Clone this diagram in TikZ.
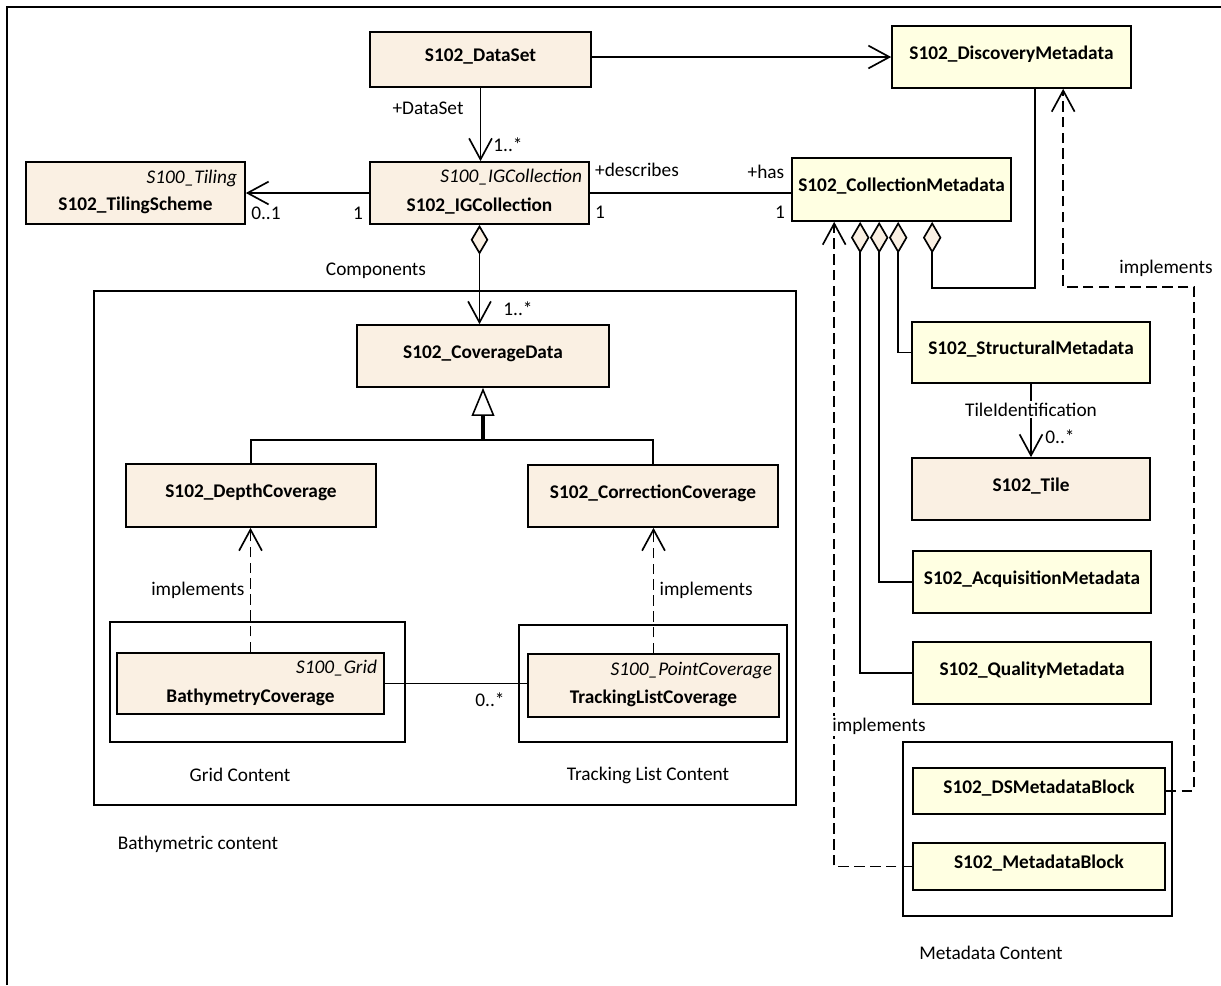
\documentclass[tikz,border=0pt]{standalone}
\usepackage{fontspec}
\setmainfont{Carlito}
\usetikzlibrary{positioning, arrows.meta, calc}

\definecolor{classfill}{RGB}{250,240,227}
\definecolor{metafill}{RGB}{255,255,226}

\tikzset{
  cls/.style={draw, fill=classfill, inner sep=0pt, text height=8pt, text depth=5.5pt,
    font=\fontsize{11}{13}\selectfont\bfseries},
  meta/.style={cls, fill=metafill},
  clsname/.style={inner sep=0pt, font=\fontsize{11}{13}\selectfont\bfseries},
  stereo/.style={inner sep=0pt, font=\fontsize{11}{13}\selectfont\itshape},
  lbl/.style={inner sep=1pt},
  assoc/.style={-{Straight Barb[length=12pt, width=13pt]}},
  real/.style={assoc, dash pattern=on 6pt off 3pt},
  agg/.style={{Diamond[fill=classfill, length=18pt, width=10.5pt]}-},
  aggnav/.style={{Diamond[fill=classfill, length=17pt, width=10pt]}-{Straight Barb[length=12pt, width=13pt]}},
  gen/.style={-{Triangle[open, line width=0.9pt, length=16pt, width=13pt]}}
}

\begin{document}
\begin{tikzpicture}[x=0.02cm, y=-0.02cm, line width=0.95pt,
    every node/.style={font=\fontsize{11}{13}\selectfont}]
    \useasboundingbox (0,0) rectangle (1221,985);

    % Frame
    \draw (7,985) -- (7,7) -- (1221,7);

    % Packages
    \draw (94,291) rectangle (796,805);
    \node[lbl] (pk-bathy) at (198,844) {Bathymetric content};
    \draw (110,622) rectangle (405,742);
    \node[lbl] (pk-grid) at (240,775) {Grid Content};
    \draw (519,625) rectangle (787,742);
    \node[lbl] (pk-track) at (648,775) {Tracking List Content};
    \draw (903,742) rectangle (1172,916);
    \node[lbl] (pk-meta) at (991,953) {Metadata Content};

    % Classes
    \node[cls, minimum width=4.42cm, minimum height=1.1cm] (dataset) at (480.5,59.5) {S102\_DataSet};
    \node[meta, minimum width=4.78cm, minimum height=1.24cm] (discovery) at (1011.5,57) {S102\_DiscoveryMetadata};
    \node[cls, minimum width=4.38cm, minimum height=1.24cm] (tiling) at (135.5,193) {};
    \node[stereo, anchor=east] (tiling-st) at ($(tiling.north east)+(-8,17)$) {S100\_Tiling};
    \node[clsname] (tiling-nm) at ($(tiling.south)+(0,-19)$) {S102\_TilingScheme};
    \node[cls, minimum width=4.38cm, minimum height=1.24cm] (igcoll) at (479.5,193) {};
    \node[stereo, anchor=east] (igcoll-st) at ($(igcoll.north east)+(-7,16)$) {S100\_IGCollection};
    \node[clsname] (igcoll-nm) at ($(igcoll.south)+(0,-19)$) {S102\_IGCollection};
    \node[meta, minimum width=4.38cm, minimum height=1.26cm] (collmeta) at (901.5,189.5) {S102\_CollectionMetadata};

    \node[cls, minimum width=5.04cm, minimum height=1.24cm] (coverage) at (483,356) {S102\_CoverageData};
    \node[cls, minimum width=5cm, minimum height=1.26cm] (depth) at (251,495.5) {S102\_DepthCoverage};
    \node[cls, minimum width=5cm, minimum height=1.24cm] (correction) at (653,496) {S102\_CorrectionCoverage};
    \node[cls, minimum width=5.34cm, minimum height=1.22cm] (bathy) at (250.5,683.5) {};
    \node[stereo, anchor=east] (bathy-st) at ($(bathy.north east)+(-7,16)$) {S100\_Grid};
    \node[clsname] (bathy-nm) at ($(bathy.south)+(0,-17)$) {BathymetryCoverage};
    \node[cls, minimum width=5.02cm, minimum height=1.26cm] (tracking) at (653.5,685.5) {};
    \node[stereo, anchor=east] (tracking-st) at ($(tracking.north east)+(-7,17)$) {S100\_PointCoverage};
    \node[clsname] (tracking-nm) at ($(tracking.south)+(0,-19)$) {TrackingListCoverage};

    \node[meta, minimum width=4.76cm, minimum height=1.22cm] (structural) at (1031,352.5) {S102\_StructuralMetadata};
    \node[cls, minimum width=4.76cm, minimum height=1.24cm] (tile) at (1031,489) {S102\_Tile};
    \node[meta, minimum width=4.76cm, minimum height=1.24cm] (acquisition) at (1032,582) {S102\_AcquisitionMetadata};
    \node[meta, minimum width=4.76cm, minimum height=1.24cm] (quality) at (1032,673) {S102\_QualityMetadata};
    \node[meta, minimum width=5.04cm, minimum height=0.92cm] (dsblock) at (1039,791) {S102\_DSMetadataBlock};
    \node[meta, minimum width=5.04cm, minimum height=0.94cm] (mdblock) at (1039,866.5) {S102\_MetadataBlock};

    % Associations
    \draw[assoc] (dataset.east |- discovery.west) -- (discovery.west);
    \draw[assoc] (dataset.south) -- (dataset.south |- igcoll.north);
    \node[lbl] (ds-role) at (428,108) {+DataSet};
    \node[lbl] (ds-mult) at (508,145) {1..*};
    \draw[assoc] (igcoll.west) -- (tiling.east);
    \node[lbl] (til-mult) at (266,213) {0..1};
    \node[lbl] (ig-mult) at (358,213) {1};
    \draw (igcoll.east) -- (igcoll.east -| collmeta.west);
    \node[lbl] (desc-role) at (637,170) {+describes};
    \node[lbl] (desc-mult) at (600,212) {1};
    \node[lbl] (has-role) at (766,172) {+has};
    \node[lbl] (has-mult) at (780,212) {1};

    % Components
    \draw[aggnav] (igcoll.south) -- (igcoll.south |- coverage.north);
    \node[lbl] (comp-lbl) at (376,271) {Components};
    \node[lbl] (comp-mult) at (518,309) {1..*};

    % Generalization
    \coordinate (genhub) at ($(coverage.south)+(0,52)$);
    \draw[gen, line width=2pt] (genhub) -- (coverage.south);
    \draw (depth.north) |- (genhub) -| (correction.north);

    % Realizations
    \draw[real] (bathy.north) -- (bathy.north |- depth.south)
      node[midway, left, inner sep=3pt] {implements};
    \draw[real] (tracking.north) -- (tracking.north |- correction.south)
      node[midway, right, inner sep=3pt] {implements};
    \draw (bathy.east) -- (bathy.east -| tracking.west);
    \node[lbl] (trk-mult) at (490,700) {0..*};

    % Tiles
    \draw[assoc] (structural.south) -- (tile.north)
      node[pos=0.35, fill=white, inner sep=1pt] {TileIdentification};
    \node[lbl] (tile-mult) at (1060,437) {0..*};

    % Metadata aggregations
    \draw[agg] ($(collmeta.south west)+(69,0)$) |- (quality.west);
    \draw[agg] ($(collmeta.south west)+(88,0)$) |- (acquisition.west);
    \draw[agg] ($(collmeta.south west)+(107,0)$) |- (structural.west);
    \draw[agg] ($(collmeta.south west)+(141,0)$) -- ++(0,66) -| ($(discovery.south west)+(144,0)$);

    % Metadata blocks
    \draw[real] (mdblock.west) -| ($(collmeta.south west)+(43,0)$);
    \node[lbl, fill=white] (md-impl) at (879,726) {implements};
    \draw[real] (dsblock.east) -- ++(28,0) |- ($(discovery.south west)+(172,198)$)
      -- ($(discovery.south west)+(172,0)$);
    \node[lbl] (ds-impl) at (1166,268) {implements};
\end{tikzpicture}
\end{document}
